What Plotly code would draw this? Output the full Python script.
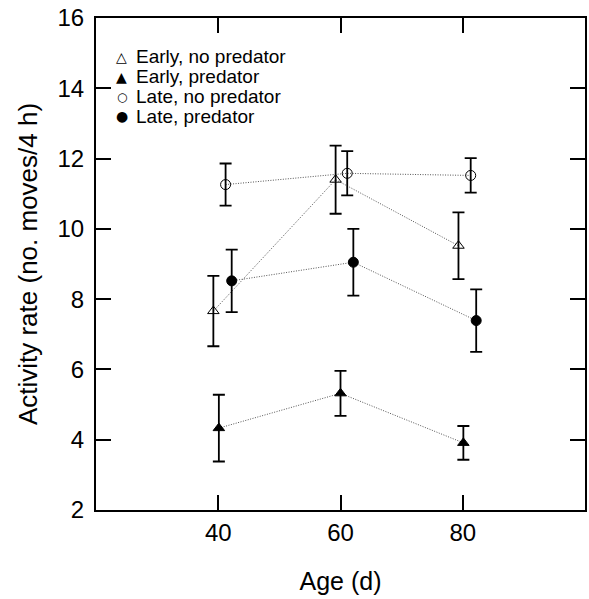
import plotly.graph_objects as go

# Data
series_names = ["Early, no predator", "Early, predator", "Late, no predator", "Late, predator"]
legend_glyphs = ["△", "▲", "○", "●"]

x_early_nopred = [39.2, 59.2, 79.3]
y_early_nopred = [7.66, 11.4, 9.52]
e_early_nopred = [1.0, 0.97, 0.95]

x_early_pred = [40.1, 60.0, 80.1]
y_early_pred = [4.33, 5.32, 3.91]
e_early_pred = [0.95, 0.64, 0.48]

x_late_nopred = [41.2, 61.1, 81.3]
y_late_nopred = [11.26, 11.58, 11.52]
e_late_nopred = [0.6, 0.63, 0.49]

x_late_pred = [42.2, 62.1, 82.2]
y_late_pred = [8.52, 9.05, 7.39]
e_late_pred = [0.89, 0.95, 0.89]

x_ticks = [40, 60, 80]
y_ticks = [2, 4, 6, 8, 10, 12, 14, 16]

symbols = ["triangle-up-open", "triangle-up", "circle-open", "circle"]
data = [
    (x_early_nopred, y_early_nopred, e_early_nopred),
    (x_early_pred, y_early_pred, e_early_pred),
    (x_late_nopred, y_late_nopred, e_late_nopred),
    (x_late_pred, y_late_pred, e_late_pred),
]

FONT = "Liberation Sans, Arial, Helvetica, sans-serif"
W, H = 589, 599
ML, MR, MT, MB = 96, 2, 18, 89
PW, PH = W - ML - MR, H - MT - MB

fig = go.Figure()

# dotted connecting lines
for (xs, ys, es) in data:
    fig.add_trace(go.Scatter(
        x=xs, y=ys, mode="lines", showlegend=False, hoverinfo="skip",
        line=dict(color="#555555", width=1, dash="1px,1.5px"),
    ))

# markers with error bars
for name, sym, (xs, ys, es) in zip(series_names, symbols, data):
    fig.add_trace(go.Scatter(
        x=xs, y=ys, mode="markers", name=name, showlegend=False,
        marker=dict(symbol=sym, size=10, color="black",
                    line=dict(color="black", width=1)),
        error_y=dict(type="data", array=es, visible=True,
                     color="black", thickness=1.8, width=6),
    ))

# legend drawn as text (symbol glyph + label), rows positioned in pixels
def px_to_paper_x(px):
    return (px - ML) / PW

def px_to_paper_y(py):
    return (H - MB - py) / PH

row_y = [57, 77, 96.5, 116]
glyph_sizes = [14, 14, 12, 14]
annotations = []
for i, (g, name) in enumerate(zip(legend_glyphs, series_names)):
    annotations.append(dict(
        x=px_to_paper_x(122), y=px_to_paper_y(row_y[i]), xref="paper", yref="paper",
        text=g, showarrow=False, xanchor="center", yanchor="middle",
        font=dict(family="DejaVu Sans", size=glyph_sizes[i], color="black"),
    ))
    annotations.append(dict(
        x=px_to_paper_x(134), y=px_to_paper_y(row_y[i]), xref="paper", yref="paper",
        text=name, showarrow=False, xanchor="left", yanchor="middle",
        font=dict(family=FONT, size=19, color="black"),
    ))

axis_common = dict(
    showgrid=False, zeroline=False,
    showline=True, linecolor="black", linewidth=2, mirror="allticks",
    ticks="inside", ticklen=15, tickwidth=1.5, tickcolor="black",
    tickfont=dict(family=FONT, size=24, color="black"),
)

fig.update_layout(
    width=W, height=H,
    margin=dict(l=ML, r=MR, t=MT, b=MB),
    paper_bgcolor="white", plot_bgcolor="white",
    font=dict(family=FONT, color="black"),
    xaxis=dict(range=[20, 100], tickvals=x_ticks,
               title=dict(text="Age (d)", font=dict(family=FONT, size=25, color="black"), standoff=28),
               **axis_common),
    yaxis=dict(range=[2, 16], tickvals=y_ticks, ticklabelstandoff=5,
               title=dict(text="Activity rate (no. moves/4 h)", font=dict(family=FONT, size=26, color="black"), standoff=12),
               **axis_common),
    annotations=annotations,
    showlegend=False,
)

fig.write_html("out.html")
